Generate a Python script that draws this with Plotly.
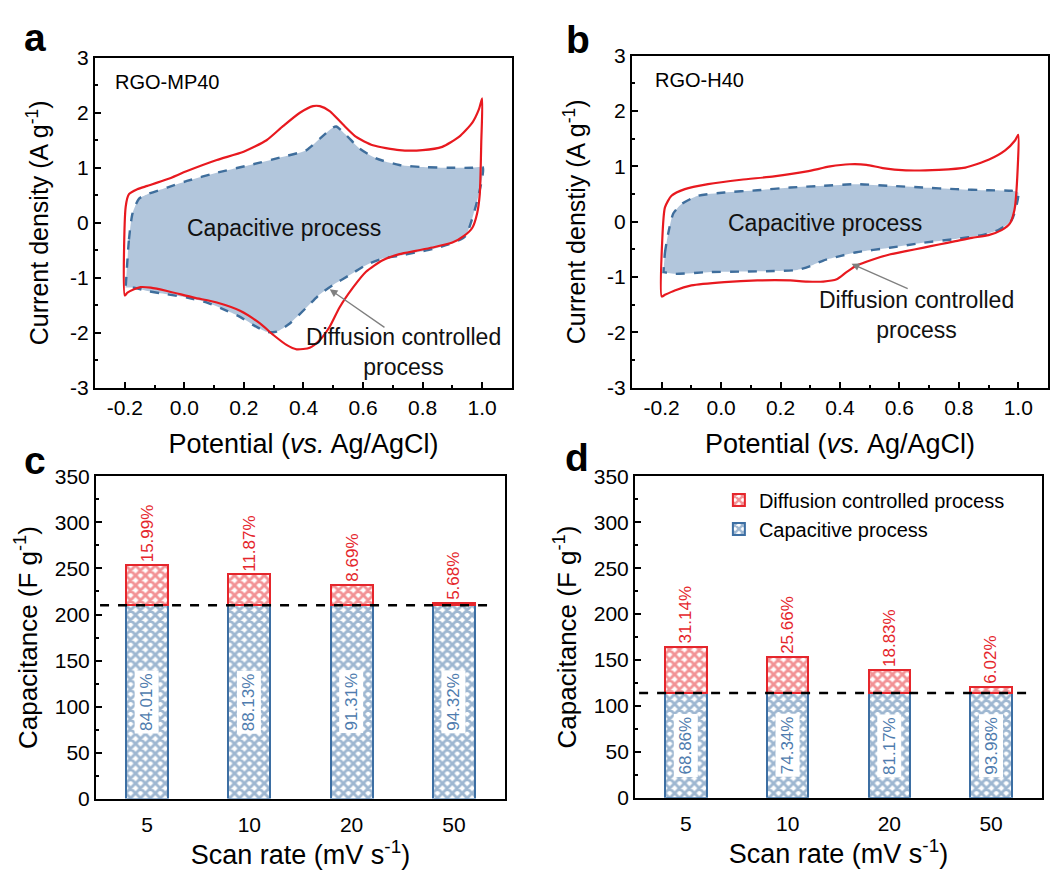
import plotly.graph_objects as go

# ---------------- data: panel a (RGO-MP40) ----------------
a_red_x = [-0.2, -0.197, -0.186, -0.158, -0.124, -0.058, 0.009, 0.109, 0.199, 0.276, 0.332, 0.388,
           0.432, 0.455, 0.488, 0.532, 0.577, 0.633, 0.722, 0.8, 0.866, 0.922, 0.967, 0.989, 1.0,
           0.997, 0.992, 0.983, 0.967, 0.939, 0.9, 0.833, 0.777, 0.722, 0.666, 0.610, 0.566, 0.521,
           0.488, 0.455, 0.421, 0.377, 0.343, 0.299, 0.254, 0.187, 0.109, 0.032, -0.058, -0.113,
           -0.147, -0.169, -0.191, -0.2]
a_red_y = [-1.32, 0.29, 0.52, 0.61, 0.67, 0.79, 0.94, 1.14, 1.29, 1.50, 1.76, 2.0,
           2.12, 2.12, 2.03, 1.79, 1.56, 1.41, 1.32, 1.32, 1.38, 1.56, 1.82, 2.06, 2.26,
           1.47, 0.52, 0.17, -0.09, -0.24, -0.36, -0.45, -0.51, -0.57, -0.68, -0.89, -1.18, -1.54,
           -1.89, -2.13, -2.27, -2.30, -2.22, -2.04, -1.83, -1.60, -1.45, -1.36, -1.24, -1.18,
           -1.17, -1.21, -1.27, -1.32]
a_blue_x = [-0.197, -0.186, -0.174, -0.152, -0.124, -0.058, 0.009, 0.109, 0.221, 0.332, 0.410,
            0.455, 0.499, 0.510, 0.544, 0.588, 0.644, 0.722, 0.811, 0.889, 0.967, 1.002,
            0.944, 0.889, 0.833, 0.777, 0.722, 0.666, 0.610, 0.555, 0.499, 0.455, 0.410, 0.354,
            0.310, 0.276, 0.232, 0.187, 0.143, 0.076, 0.009, -0.058, -0.124, -0.169, -0.197]
a_blue_y = [-1.18, -0.30, 0.17, 0.44, 0.52, 0.64, 0.76, 0.91, 1.05, 1.20, 1.32,
            1.53, 1.73, 1.75, 1.59, 1.35, 1.17, 1.05, 1.01, 1.00, 1.00, 1.01,
            -0.24, -0.39, -0.48, -0.54, -0.60, -0.65, -0.77, -0.95, -1.13, -1.30, -1.54, -1.83,
            -1.98, -1.98, -1.86, -1.71, -1.60, -1.45, -1.36, -1.30, -1.24, -1.18, -1.18]

# ---------------- data: panel b (RGO-H40) ----------------
b_red_x = [-0.2, -0.198, -0.189, -0.167, -0.122, -0.044, 0.067, 0.178, 0.289, 0.367, 0.433, 0.489,
           0.544, 0.622, 0.733, 0.822, 0.9, 0.956, 0.989, 1.0,
           0.994, 0.987, 0.972, 0.944, 0.9, 0.844, 0.789, 0.733, 0.678, 0.622, 0.567, 0.511,
           0.456, 0.422, 0.389, 0.344, 0.289, 0.233, 0.122, 0.011, -0.1, -0.156, -0.189, -0.2]
b_red_y = [-1.35, -0.32, 0.26, 0.47, 0.59, 0.68, 0.76, 0.82, 0.91, 1.0, 1.04, 1.03,
           0.97, 0.93, 0.94, 0.98, 1.12, 1.29, 1.47, 1.57,
           0.56, 0.21, -0.03, -0.15, -0.24, -0.29, -0.35, -0.41, -0.47, -0.53, -0.59, -0.68,
           -0.79, -0.91, -1.04, -1.08, -1.08, -1.06, -1.06, -1.09, -1.15, -1.24, -1.32, -1.35]
b_blue_x = [-0.194, -0.189, -0.178, -0.161, -0.133, -0.078, 0.011, 0.122, 0.233, 0.344, 0.456,
            0.567, 0.678, 0.789, 0.9, 0.978, 1.0,
            0.978, 0.933, 0.878, 0.789, 0.678, 0.567, 0.456, 0.4, 0.344, 0.3, 0.256, 0.178,
            0.067, -0.044, -0.156, -0.194]
b_blue_y = [-0.91, -0.56, -0.21, 0.15, 0.32, 0.47, 0.53, 0.57, 0.62, 0.65, 0.68,
            0.65, 0.62, 0.59, 0.57, 0.56, 0.53,
            0.03, -0.15, -0.24, -0.31, -0.38, -0.47, -0.55, -0.62, -0.70, -0.80, -0.87, -0.89,
            -0.90, -0.91, -0.94, -0.91]

# ---------------- data: panels c / d ----------------
scan_rates = ["5", "10", "20", "50"]
c_capacitive = [210, 210, 210, 210]
c_diffusion = [43.5, 33.5, 22, 2.5]
c_cap_pct = ["84.01%", "88.13%", "91.31%", "94.32%"]
c_dif_pct = ["15.99%", "11.87%", "8.69%", "5.68%"]
c_baseline = 210

d_capacitive = [113.5, 113.5, 113.5, 113.5]
d_diffusion = [51, 39.5, 26, 7.5]
d_cap_pct = ["68.86%", "74.34%", "81.17%", "93.98%"]
d_dif_pct = ["31.14%", "25.66%", "18.83%", "6.02%"]
d_baseline = 114

cv_xticks = [-0.2, 0.0, 0.2, 0.4, 0.6, 0.8, 1.0]
cv_xticktext = ["-0.2", "0.0", "0.2", "0.4", "0.6", "0.8", "1.0"]
cv_yticks = [-3, -2, -1, 0, 1, 2, 3]
cv_yticktext = ["-3", "-2", "-1", "0", "1", "2", "3"]

# ---------------- style ----------------
FONT = "Arial, Liberation Sans, sans-serif"
RED = "#e8191f"
BLUE_LINE = "#3f6e9c"
FILL = "rgba(170,192,216,0.9)"
BAR_RED = "#e5262c"
BAR_BLUE = "#3d6fa3"
LBL_BLUE = "#4f7cae"

fig = go.Figure()

def cv_panel(xa, ya, rx, ry, bx, by):
    fig.add_trace(go.Scatter(x=bx + [bx[0]], y=by + [by[0]], mode="lines", fill="toself",
                             fillcolor=FILL, line=dict(color=BLUE_LINE, width=2.4, dash="dash",
                                                       shape="spline", smoothing=0.6),
                             xaxis=xa, yaxis=ya, showlegend=False, hoverinfo="skip"))
    fig.add_trace(go.Scatter(x=rx, y=ry, mode="lines",
                             line=dict(color=RED, width=2.2, shape="spline", smoothing=0.6),
                             xaxis=xa, yaxis=ya, showlegend=False, hoverinfo="skip"))

cv_panel("x", "y", a_red_x, a_red_y, a_blue_x, a_blue_y)
cv_panel("x2", "y2", b_red_x, b_red_y, b_blue_x, b_blue_y)

def bar_panel(xa, ya, cap, dif, show):
    fig.add_trace(go.Bar(x=scan_rates, y=cap, name="Capacitive process", width=0.41,
                         marker=dict(color="white", line=dict(color=BAR_BLUE, width=2),
                                     pattern=dict(shape="x", fgcolor=BAR_BLUE, bgcolor="white",
                                                  size=7, solidity=0.65)),
                         xaxis=xa, yaxis=ya, showlegend=show, legendrank=2))
    fig.add_trace(go.Bar(x=scan_rates, y=dif, name="Diffusion controlled process", width=0.41,
                         marker=dict(color="white", line=dict(color=BAR_RED, width=2),
                                     pattern=dict(shape="x", fgcolor=BAR_RED, bgcolor="white",
                                                  size=7, solidity=0.65)),
                         xaxis=xa, yaxis=ya, showlegend=show, legendrank=1))

bar_panel("x3", "y3", c_capacitive, c_diffusion, False)
bar_panel("x4", "y4", d_capacitive, d_diffusion, True)

annotations = []
shapes = []

def bar_labels(xa, ya, cap, dif, cap_pct, dif_pct):
    for i in range(len(scan_rates)):
        annotations.append(dict(x=i, y=cap[i] + dif[i], xref=xa, yref=ya, text=dif_pct[i],
                                showarrow=False, textangle=-90, yanchor="bottom", yshift=1,
                                font=dict(family=FONT, size=17, color=BAR_RED)))
        annotations.append(dict(x=i, y=cap[i] / 2, xref=xa, yref=ya, text=cap_pct[i],
                                showarrow=False, textangle=-90, bgcolor="white", borderpad=2,
                                font=dict(family=FONT, size=17, color=LBL_BLUE)))

bar_labels("x3", "y3", c_capacitive, c_diffusion, c_cap_pct, c_dif_pct)
bar_labels("x4", "y4", d_capacitive, d_diffusion, d_cap_pct, d_dif_pct)

shapes.append(dict(type="line", xref="x3 domain", yref="y3", x0=0.01, x1=0.97,
                   y0=c_baseline, y1=c_baseline, line=dict(color="black", width=2.4, dash="dash")))
shapes.append(dict(type="line", xref="x4 domain", yref="y4", x0=0.01, x1=0.98,
                   y0=d_baseline, y1=d_baseline, line=dict(color="black", width=2.4, dash="dash")))

# CV panel texts
annotations += [
    dict(x=-0.24, y=2.56, xref="x", yref="y", text="RGO-MP40", showarrow=False, xanchor="left",
         font=dict(family=FONT, size=20, color="black")),
    dict(x=0.335, y=-0.1, xref="x", yref="y", text="Capacitive process", showarrow=False,
         font=dict(family=FONT, size=23, color="#111")),
    dict(x=0.735, y=-2.35, xref="x", yref="y", text="Diffusion controlled<br>process",
         showarrow=False, font=dict(family=FONT, size=23, color="#111")),
    dict(x=0.488, y=-1.21, ax=0.677, ay=-1.92, xref="x", yref="y", axref="x", ayref="y",
         text="", showarrow=True, arrowhead=2, arrowsize=1.2, arrowwidth=1.3, arrowcolor="#7f7f7f"),
    dict(x=-0.23, y=2.56, xref="x2", yref="y2", text="RGO-H40", showarrow=False, xanchor="left",
         font=dict(family=FONT, size=20, color="black")),
    dict(x=0.35, y=-0.03, xref="x2", yref="y2", text="Capacitive process", showarrow=False,
         font=dict(family=FONT, size=23, color="#111")),
    dict(x=0.656, y=-1.69, xref="x2", yref="y2", text="Diffusion controlled<br>process",
         showarrow=False, font=dict(family=FONT, size=23, color="#111")),
    dict(x=0.439, y=-0.76, ax=0.633, ay=-1.22, xref="x2", yref="y2", axref="x2", ayref="y2",
         text="", showarrow=True, arrowhead=2, arrowsize=1.2, arrowwidth=1.3, arrowcolor="#7f7f7f"),
]

# panel letters
for letter, px, py in [("a", 0.0333, 0.970), ("b", 0.550, 0.968), ("c", 0.0333, 0.470), ("d", 0.549, 0.4736)]:
    annotations.append(dict(x=px, y=py, xref="paper", yref="paper", text="<b>%s</b>" % letter,
                            showarrow=False, xanchor="center", yanchor="middle",
                            font=dict(family=FONT, size=39, color="black")))

axis_common = dict(showline=True, linecolor="black", linewidth=2, mirror=True,
                   ticks="inside", ticklen=6, tickwidth=1.5, tickcolor="black",
                   showgrid=False, zeroline=False,
                   tickfont=dict(family=FONT, size=21, color="black"))

def cv_x(domain, anchor):
    return dict(axis_common, domain=domain, anchor=anchor, range=[-0.3, 1.1],
                tickvals=cv_xticks, ticktext=cv_xticktext,
                minor=dict(dtick=0.1, tick0=-0.3, ticks="inside", ticklen=3, tickcolor="black"),
                title=dict(text="Potential (<i>vs.</i> Ag/AgCl)", standoff=16,
                           font=dict(family=FONT, size=27, color="black")))

def cv_y(domain, anchor, title):
    return dict(axis_common, domain=domain, anchor=anchor, range=[-3, 3],
                tickvals=cv_yticks, ticktext=cv_yticktext,
                minor=dict(dtick=0.5, tick0=-3, ticks="inside", ticklen=3, tickcolor="black"),
                title=dict(text=title, standoff=14, font=dict(family=FONT, size=25, color="black")))

def bar_x(domain, anchor):
    return dict(axis_common, domain=domain, anchor=anchor, ticks="", range=[-0.5, 3.5],
                type="category", ticklabelstandoff=6,
                title=dict(text="Scan rate (mV s<sup>-1</sup>)", standoff=0,
                           font=dict(family=FONT, size=27, color="black")))

def bar_y(domain, anchor):
    return dict(axis_common, domain=domain, anchor=anchor, range=[0, 350], dtick=50, tick0=0,
                minor=dict(dtick=25, ticks="inside", ticklen=3, tickcolor="black"),
                title=dict(text="Capacitance (F g<sup>-1</sup>)", standoff=10,
                           font=dict(family=FONT, size=26, color="black")))

fig.update_layout(
    width=1051, height=870,
    margin=dict(l=0, r=0, t=0, b=0),
    paper_bgcolor="white", plot_bgcolor="white",
    font=dict(family=FONT, color="black"),
    barmode="stack",
    xaxis=cv_x([0.0904, 0.4871], "y"),
    yaxis=cv_y([0.5563, 0.946], "x", "Current density (A g<sup>-1</sup>)"),
    xaxis2=cv_x([0.6013, 0.9971], "y2"),
    yaxis2=cv_y([0.5563, 0.9483], "x2", "Current denstiy (A g<sup>-1</sup>)"),
    xaxis3=bar_x([0.0913, 0.4805], "y3"),
    yaxis3=bar_y([0.0713, 0.4517], "x3"),
    xaxis4=bar_x([0.6042, 0.9914], "y4"),
    yaxis4=bar_y([0.0724, 0.4517], "x4"),
    legend=dict(x=0.684, y=0.447, xanchor="left", yanchor="top", bgcolor="rgba(0,0,0,0)",
                font=dict(family=FONT, size=20, color="black"), traceorder="normal",
                itemwidth=30, tracegroupgap=0),
    annotations=annotations,
    shapes=shapes,
)

fig.write_html("out.html")
